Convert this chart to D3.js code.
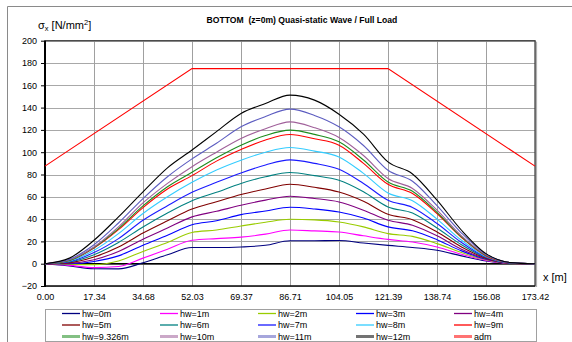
<!DOCTYPE html>
<html>
<head>
<meta charset="utf-8">
<script src="https://cdn.jsdelivr.net/npm/d3@7"></script>
<style>
  html, body { margin: 0; padding: 0; background: #fff; }
  svg { display: block; }
  text { font-family: "Liberation Sans", Arial, sans-serif; }
</style>
</head>
<body>
<svg id="chart" width="572" height="342"></svg>
<script>
// Positions along the hull (m) at which the bottom stress is sampled
const xPositions = [0, 8.67, 17.34, 26.01, 34.68, 43.35, 52.03, 60.70, 69.37, 78.04, 86.71,
                    95.38, 104.05, 112.72, 121.39, 130.06, 138.74, 147.41, 156.08, 164.75, 173.42];

// Longitudinal stress sigma_x (N/mm2) for each wave height hw
const hw0   = [0, -2, -4.5, -4.6, 0.8, 8, 14.5, 14.5, 15, 16.5, 20.6, 20.6, 20.8, 18.5, 16.4, 14.5, 12, 7, 2.5, 0.2, 0];
const hw1   = [0, -1.5, -3.5, -2.5, 5, 13, 21, 22.5, 23.8, 26.5, 30.2, 29.4, 28.4, 25, 21.8, 19.5, 15, 8.5, 3, 0.3, 0];
const hw2   = [0, -0.5, -0.8, 2.5, 11, 19, 28, 30.2, 33.8, 37.2, 39.8, 39.3, 37.4, 33, 27, 24.5, 18, 10, 3.5, 0.3, 0];
const hw3   = [0, 0, 2, 7, 16.5, 25.5, 35, 38.5, 44, 47.3, 50.6, 49.1, 46.4, 41, 33, 29.5, 21.5, 11.5, 4, 0.4, 0];
const hw4   = [0, 0.5, 3.6, 11, 22, 32, 42, 47, 52.4, 57, 60.5, 58.5, 55.4, 48, 39, 34.5, 25, 13, 4.5, 0.5, 0];
const hw5   = [0, 1, 6, 15, 27.5, 38.5, 49, 55.5, 62, 67, 71.2, 68.5, 64.3, 56, 44.3, 39.5, 28.5, 15, 5, 0.5, 0];
const hw6   = [0, 1.5, 8, 19, 33, 45.5, 56.5, 64, 72, 78, 81.8, 79, 74.8, 64.5, 50.9, 45.5, 32, 17, 5.5, 0.6, 0];
const hw7   = [0, 2, 10, 22.5, 39, 52, 64, 73, 81.4, 88.5, 93.1, 90, 84.7, 72, 56.9, 50.5, 36, 19, 6, 0.7, 0];
const hw8   = [0, 2.5, 12, 27, 45, 60, 73, 84, 92.8, 100, 104.2, 101, 95.8, 81, 63.4, 56.5, 40, 21, 6.5, 0.8, 0];
const hw9   = [0, 3, 14, 30.5, 50.3, 67, 79, 92, 102.4, 111, 115.9, 112, 106.3, 90, 71.2, 63, 45, 23.5, 7, 1, 0];
const hw9326 = [0, 3, 14.5, 31.5, 51.8, 69, 82, 95, 106.3, 115, 119.8, 116, 109.3, 93, 73.3, 65, 46, 24, 7.5, 1, 0];
const hw10  = [0, 3.5, 15, 33, 54.5, 72, 87, 100, 112.3, 121, 127.2, 122, 113.2, 97, 76.4, 67.5, 48, 25, 8, 1, 0];
const hw11  = [0, 4, 17, 36.5, 58.4, 78, 94, 108, 122.8, 132, 138.6, 133, 122.8, 106, 83.8, 74, 52, 27.5, 8.5, 1, 0];
const hw12  = [0, 5, 21, 42, 64.5, 86, 102, 118.5, 134.8, 143.7, 151.2, 146.7, 134.1, 116.2, 91.3, 80.5, 57, 30, 9, 1, 0];

// Admissible stress envelope
const admX = [0, 52.03, 121.39, 173.42];
const admY = [87.5, 175, 175, 87.5];

const seriesNames = ["hw=0m", "hw=1m", "hw=2m", "hw=3m", "hw=4m",
                     "hw=5m", "hw=6m", "hw=7m", "hw=8m", "hw=9m",
                     "hw=9.326m", "hw=10m", "hw=11m", "hw=12m", "adm"];
const seriesColors = ["#000080", "#ff00ff", "#99cc00", "#0000ff", "#800080",
                      "#800000", "#008080", "#1a1aff", "#33ccff", "#ff0000",
                      "#1e8c1e", "#a0609a", "#5c5cc0", "#000000", "#ff0000"];
const hwValues = [hw0, hw1, hw2, hw3, hw4, hw5, hw6, hw7, hw8, hw9, hw9326, hw10, hw11, hw12];

const xTicks = [0, 17.34, 34.68, 52.03, 69.37, 86.71, 104.05, 121.39, 138.74, 156.08, 173.42];
const yTicks = [-20, 0, 20, 40, 60, 80, 100, 120, 140, 160, 180, 200];

const svg = d3.select("#chart");

// Outer chart frame
svg.append("path")
  .attr("d", "M7.5,342 V6.5 H572")
  .attr("fill", "none").attr("stroke", "#8a8a8a").attr("stroke-width", 1);

const plot = { left: 45, right: 535, top: 40.7, bottom: 286 };
const x = d3.scaleLinear().domain([0, 173.42]).range([plot.left, plot.right]);
const y = d3.scaleLinear().domain([-20, 200]).range([plot.bottom, plot.top]);

// Grid
const grid = svg.append("g");
grid.selectAll("line.h").data(yTicks).join("line")
  .attr("x1", plot.left).attr("x2", plot.right)
  .attr("y1", d => Math.round(y(d)) + 0.5).attr("y2", d => Math.round(y(d)) + 0.5)
  .attr("stroke", "#a8a8a8").attr("stroke-width", 1);
grid.selectAll("line.v").data(xTicks).join("line")
  .attr("y1", plot.top).attr("y2", plot.bottom)
  .attr("x1", d => Math.round(x(d)) + 0.5).attr("x2", d => Math.round(x(d)) + 0.5)
  .attr("stroke", "#a0a0a0").attr("stroke-width", 1);

// Plot border
svg.append("rect")
  .attr("x", plot.left).attr("y", plot.top)
  .attr("width", plot.right - plot.left).attr("height", plot.bottom - plot.top)
  .attr("fill", "none").attr("stroke", "#3a3a3a").attr("stroke-width", 1.2);
svg.append("line")
  .attr("x1", plot.right + 1.5).attr("x2", plot.right + 1.5)
  .attr("y1", plot.top + 1).attr("y2", plot.bottom + 1)
  .attr("stroke", "#b0b0b0").attr("stroke-width", 1.2);

// Axes via d3-axis, styled without domain paths
const yAxis = svg.append("g")
  .attr("transform", `translate(${plot.left},0)`)
  .call(d3.axisLeft(y).tickValues(yTicks).tickSize(4).tickFormat(d3.format("d")));
yAxis.select(".domain").remove();
yAxis.selectAll(".tick line").attr("stroke", "#000");
yAxis.selectAll(".tick text")
  .attr("x", -8).attr("font-size", 9).attr("fill", "#000")
  .style("font-family", "'Liberation Sans', Arial, sans-serif");

const xAxis = svg.append("g")
  .attr("transform", `translate(0,${plot.bottom})`)
  .call(d3.axisBottom(x).tickValues(xTicks).tickSize(0).tickFormat(d3.format(".2f")));
xAxis.select(".domain").remove();
xAxis.selectAll(".tick text")
  .attr("y", 8).attr("font-size", 9).attr("fill", "#000")
  .style("font-family", "'Liberation Sans', Arial, sans-serif");

// Left axis and zero line
svg.append("line")
  .attr("x1", plot.left).attr("x2", plot.left)
  .attr("y1", plot.top).attr("y2", plot.bottom + 1)
  .attr("stroke", "#000").attr("stroke-width", 2);
svg.append("line")
  .attr("x1", plot.left).attr("x2", plot.right)
  .attr("y1", y(0)).attr("y2", y(0))
  .attr("stroke", "#000").attr("stroke-width", 1.5);
svg.append("line")
  .attr("x1", plot.left).attr("x2", plot.right)
  .attr("y1", plot.bottom).attr("y2", plot.bottom)
  .attr("stroke", "#000").attr("stroke-width", 1.2);

// Stress curves
const line = d3.line()
  .x((d, i) => x(xPositions[i]))
  .y(d => y(d))
  .curve(d3.curveMonotoneX);

svg.append("g").selectAll("path")
  .data(hwValues)
  .join("path")
  .attr("d", d => line(d))
  .attr("fill", "none")
  .attr("stroke", (d, i) => seriesColors[i])
  .attr("stroke-width", 1.1);

// Admissible stress line
svg.append("path")
  .attr("d", d3.line().x((d, i) => x(admX[i])).y(d => y(d))(admY))
  .attr("fill", "none").attr("stroke", seriesColors[14]).attr("stroke-width", 1.1);

// Titles
svg.append("text")
  .attr("x", 302).attr("y", 23)
  .attr("text-anchor", "middle")
  .attr("font-size", 8.6).attr("font-weight", "bold")
  .text("BOTTOM  (z=0m) Quasi-static Wave / Full Load")
  .attr("xml:space", "preserve");

const yl = svg.append("text").attr("x", 38).attr("y", 29).attr("font-size", 11);
yl.append("tspan").text("σ");
yl.append("tspan").attr("font-size", 7.5).attr("dy", 2).text("x");
yl.append("tspan").attr("dy", -2).text(" [N/mm");
yl.append("tspan").attr("font-size", 7.5).attr("dy", -4).text("2");
yl.append("tspan").attr("dy", 4).text("]");

svg.append("text")
  .attr("x", 543).attr("y", 281)
  .attr("font-size", 11)
  .text("x [m]");

// Legend
const legend = svg.append("g");
legend.append("rect")
  .attr("x", 45.5).attr("y", 309.5).attr("width", 491).attr("height", 32)
  .attr("fill", "#fff").attr("stroke", "#a0a0a0").attr("stroke-width", 1);

const colX = [62, 160, 258, 356, 454];
const rowY = [313.5, 325, 336.5];
seriesNames.forEach((name, i) => {
  const col = i % 5, row = Math.floor(i / 5);
  const g = legend.append("g")
    .attr("transform", `translate(${colX[col]},${rowY[row]})`);
  g.append("line")
    .attr("x1", 0).attr("x2", 18).attr("y1", 0).attr("y2", 0)
    .attr("stroke", seriesColors[i])
    .attr("stroke-width", row === 2 ? 3 : 1.3)
    .attr("stroke-opacity", row === 2 ? 0.55 : 1);
  g.append("text")
    .attr("x", 20).attr("y", 3.2)
    .attr("font-size", 9)
    .text(name);
});
</script>
</body>
</html>
